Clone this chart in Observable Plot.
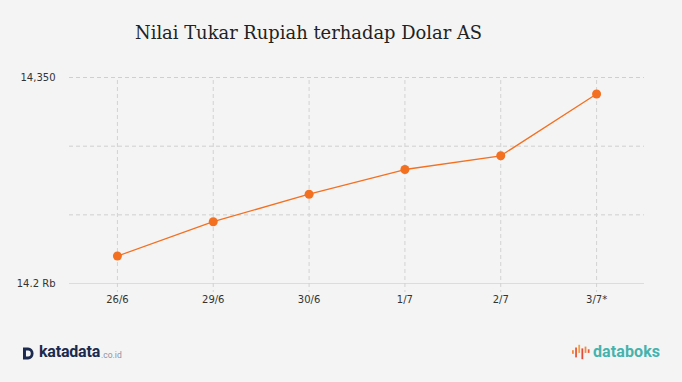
<!DOCTYPE html>
<html>
<head>
<meta charset="utf-8">
<script src="https://cdn.jsdelivr.net/npm/d3@7"></script>
<script src="https://cdn.jsdelivr.net/npm/@observablehq/plot@0.6"></script>
<style>
  html, body { margin: 0; padding: 0; }
  body { width: 682px; height: 382px; background: #f4f4f4; position: relative; overflow: hidden; font-family: "DejaVu Sans", sans-serif; }
  #title { position: absolute; left: 135px; top: 22px; font-family: "DejaVu Serif", serif; font-size: 17.9px; color: #222; white-space: nowrap; }
  #chart { position: absolute; left: 0; top: 60px; }
  #kata { position: absolute; left: 23px; top: 344px; display: flex; align-items: flex-end; }
  #kata .k { font-family: Roboto, sans-serif; font-weight: bold; font-size: 16px; color: #1b2a4e; letter-spacing: -0.2px; line-height: 16px; }
  #kata .c { font-family: Roboto, sans-serif; font-size: 8.5px; color: #8a93a6; margin-left: 1px; line-height: 10px; }
  #dbk { position: absolute; left: 572px; top: 344px; display: flex; align-items: center; }
  #dbk .t { font-family: Roboto, sans-serif; font-weight: bold; font-size: 16px; color: #45b3ad; margin-left: 3px; line-height: 16px; letter-spacing: 0.1px; }
</style>
</head>
<body>
<div id="title">Nilai Tukar Rupiah terhadap Dolar AS</div>
<div id="chart"></div>
<div id="kata">
  <svg width="11" height="13" viewBox="0 0 13 14"><path d="M0 0 H6 A6.5 7 0 0 1 6 14 H0 Z M3.5 3.5 V10.5 H6 A3.2 3.5 0 0 0 6 3.5 Z" fill="#1b2a4e" fill-rule="evenodd"/></svg>
  <span class="k" style="margin-left:5px">katadata</span><span class="c">.co.id</span>
</div>
<div id="dbk">
  <svg width="18" height="16" viewBox="0 0 20 16">
    <rect x="0" y="6" width="2" height="4" fill="#f28a3c"/>
    <rect x="3.5" y="3" width="2" height="11" fill="#e8583a"/>
    <rect x="7" y="0" width="2" height="9" fill="#f5a13a"/>
    <rect x="10.5" y="4" width="2" height="12" fill="#e04a3c"/>
    <rect x="14" y="2" width="2" height="7" fill="#f28a3c"/>
    <rect x="17.5" y="5" width="2" height="4" fill="#e8583a"/>
  </svg>
  <span class="t">databoks</span>
</div>
<script>
const dates = ["26/6", "29/6", "30/6", "1/7", "2/7", "3/7*"];
const values = [14220, 14245, 14265, 14283, 14293, 14338];
const yTicks = [14200, 14250, 14300, 14350];
const yTickLabels = ["14.2 Rb", "", "", "14,350"];

const data = dates.map((d, i) => ({date: d, value: values[i]}));
const labelOf = new Map(yTicks.map((t, i) => [t, yTickLabels[i]]));

const plot = Plot.plot({
  width: 682,
  height: 250,
  marginLeft: 69,
  marginRight: 38,
  marginTop: 17,
  marginBottom: 27,
  style: {background: "transparent", fontFamily: "DejaVu Sans, sans-serif", fontSize: "10px", color: "#333"},
  x: {type: "point", domain: dates, padding: 0.5, round: false, label: null},
  y: {domain: [14200, 14350], label: null},
  marks: [
    Plot.ruleY(yTicks.slice(1), {stroke: "#cfcfcf", strokeDasharray: "4,3", strokeWidth: 1}),
    Plot.ruleY([14200], {stroke: "#dcdcdc", strokeWidth: 1.2}),
    Plot.ruleX(dates, {x: d => d, stroke: "#d2d2d2", strokeDasharray: "4,3", strokeWidth: 1, insetTop: 3, insetBottom: -9}),
    Plot.axisY({ticks: yTicks, tickSize: 0, tickPadding: 14, tickFormat: d => labelOf.get(d), fill: "#333"}),
    Plot.axisX({tickSize: 0, tickPadding: 12, fill: "#333"}),
    Plot.line(data, {x: "date", y: "value", stroke: "#f37021", strokeWidth: 1.3}),
    Plot.dot(data, {x: "date", y: "value", fill: "#f37021", r: 4.5})
  ]
});
document.getElementById("chart").appendChild(plot);
</script>
</body>
</html>
